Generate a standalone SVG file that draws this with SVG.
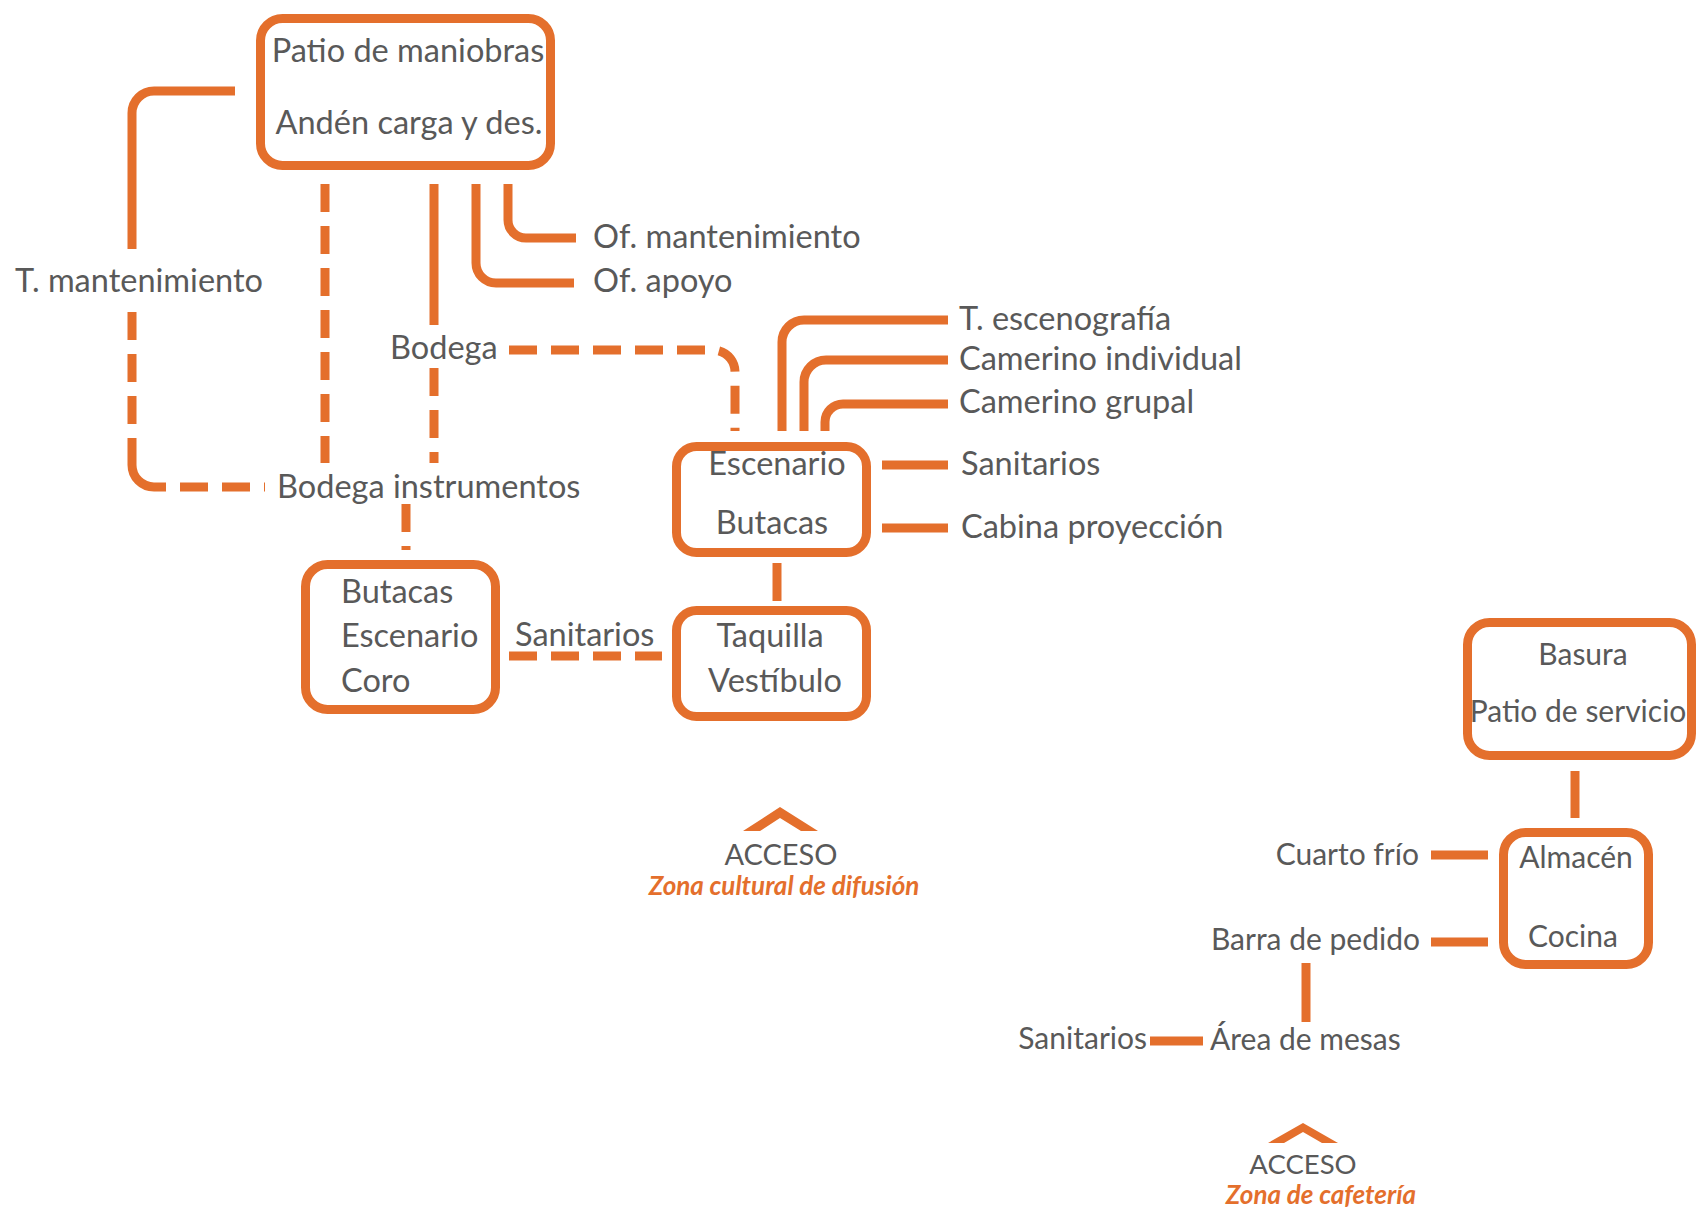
<svg xmlns="http://www.w3.org/2000/svg" width="1697" height="1208" viewBox="0 0 1697 1208">
<style>
.box{fill:#fff;stroke:#E46F2C;stroke-width:9}
.ln{fill:none;stroke:#E46F2C;stroke-width:9}
.ds{fill:none;stroke:#E46F2C;stroke-width:9;stroke-dasharray:28 14}
.t{font-family:Lato,"Open Sans",sans-serif;font-size:32.5px;fill:#595959}
.r{font-size:30px}
.m{text-anchor:middle}
.e{text-anchor:end}
.z{font-family:Lato,"Open Sans",sans-serif;font-size:26px;font-weight:bold;font-style:italic;fill:#E46F2C;text-anchor:middle}
.chev{fill:#E46F2C}
</style>
<rect width="1697" height="1208" fill="#fff"/>
<g id="connectors">
<path class="ln" d="M235 91 H154 A22 22 0 0 0 132 113 V249"/>
<path class="ds" d="M132 312 V451"/>
<path class="ln" d="M132 451 V465 A22 22 0 0 0 154 487 H166"/>
<path class="ds" d="M180 487 H265"/>
<path class="ds" d="M325 184 V463"/>
<path class="ln" d="M434 184 V325"/>
<path class="ds" d="M434 368 V463"/>
<path class="ln" d="M476 184 V263 A20 20 0 0 0 496 283 H574"/>
<path class="ln" d="M508 184 V220 A18 18 0 0 0 526 238 H576"/>
<path class="ds" d="M509 350 H713 A22 22 0 0 1 735 372 V431"/>
<path class="ds" d="M406 504 V550"/>
<path class="ds" d="M509 656 H662"/>
<path class="ln" d="M777 563 V601"/>
<path class="ln" d="M782 431 V342 A22 22 0 0 1 804 320 H948"/>
<path class="ln" d="M804 431 V382 A22 22 0 0 1 826 360 H948"/>
<path class="ln" d="M825 431 V422 A18 18 0 0 1 843 404 H948"/>
<path class="ln" d="M882 465 H948"/>
<path class="ln" d="M882 528 H948"/>
<path class="ln" d="M1575 771 V818"/>
<path class="ln" d="M1431 855 H1488"/>
<path class="ln" d="M1431 942 H1488"/>
<path class="ln" d="M1306 963 V1022"/>
<path class="ln" d="M1150 1041 H1203"/>
</g>
<g id="patio">
<rect class="box" x="260.5" y="18.5" width="290" height="147" rx="22"/>
<text class="t m" x="408" y="62">Patio de maniobras</text>
<text class="t m" x="409" y="134">Andén carga y des.</text>
</g>
<g id="t-mantenimiento"><text class="t" x="15" y="292">T. mantenimiento</text></g>
<g id="of-mantenimiento"><text class="t" x="593" y="248">Of. mantenimiento</text></g>
<g id="of-apoyo"><text class="t" x="593" y="292">Of. apoyo</text></g>
<g id="bodega"><text class="t" x="390" y="359">Bodega</text></g>
<g id="bodega-instrumentos"><text class="t" x="277" y="498">Bodega instrumentos</text></g>
<g id="butacas-coro">
<rect class="box" x="305.5" y="564.5" width="190" height="145" rx="22"/>
<text class="t" x="341" y="603">Butacas</text>
<text class="t" x="341" y="647">Escenario</text>
<text class="t" x="341" y="692">Coro</text>
</g>
<g id="sanitarios-1"><text class="t" x="515" y="646">Sanitarios</text></g>
<g id="escenario">
<rect class="box" x="676.5" y="446.5" width="190" height="106" rx="20"/>
<text class="t m" x="777" y="475">Escenario</text>
<text class="t m" x="772" y="534">Butacas</text>
</g>
<g id="taquilla">
<rect class="box" x="676.5" y="610.5" width="190" height="106" rx="20"/>
<text class="t m" x="770" y="647">Taquilla</text>
<text class="t m" x="775" y="692">Vestíbulo</text>
</g>
<g id="t-escenografia"><text class="t" x="959" y="330">T. escenografía</text></g>
<g id="camerino-individual"><text class="t" x="959" y="370">Camerino individual</text></g>
<g id="camerino-grupal"><text class="t" x="959" y="413">Camerino grupal</text></g>
<g id="sanitarios-2"><text class="t" x="961" y="475">Sanitarios</text></g>
<g id="cabina"><text class="t" x="961" y="538">Cabina proyección</text></g>
<g id="acceso-1">
<polygon class="chev" points="743,831 780,807 818,831 801,831 780,818 760,831"/>
<text class="t m" x="781" y="865" style="font-size:29px">ACCESO</text>
<text class="z" x="784" y="895">Zona cultural de difusión</text>
</g>
<g id="basura">
<rect class="box" x="1467.5" y="622.5" width="224" height="133" rx="22"/>
<text class="t r m" x="1583" y="665">Basura</text>
<text class="t r m" x="1578" y="722">Patio de servicio</text>
</g>
<g id="almacen">
<rect class="box" x="1503.5" y="832.5" width="145" height="132" rx="22"/>
<text class="t r m" x="1576" y="868">Almacén</text>
<text class="t r m" x="1573" y="947">Cocina</text>
</g>
<g id="cuarto-frio"><text class="t r e" x="1419" y="865">Cuarto frío</text></g>
<g id="barra"><text class="t r e" x="1420" y="950">Barra de pedido</text></g>
<g id="area-mesas"><text class="t r" x="1210" y="1050">Área de mesas</text></g>
<g id="sanitarios-3"><text class="t r e" x="1147" y="1049">Sanitarios</text></g>
<g id="acceso-2">
<polygon class="chev" points="1268,1143 1303,1123 1338,1143 1322,1143 1303,1132 1284,1143"/>
<text class="t m" x="1303" y="1174" style="font-size:27.5px">ACCESO</text>
<text class="z" x="1321" y="1204">Zona de cafetería</text>
</g>
</svg>
